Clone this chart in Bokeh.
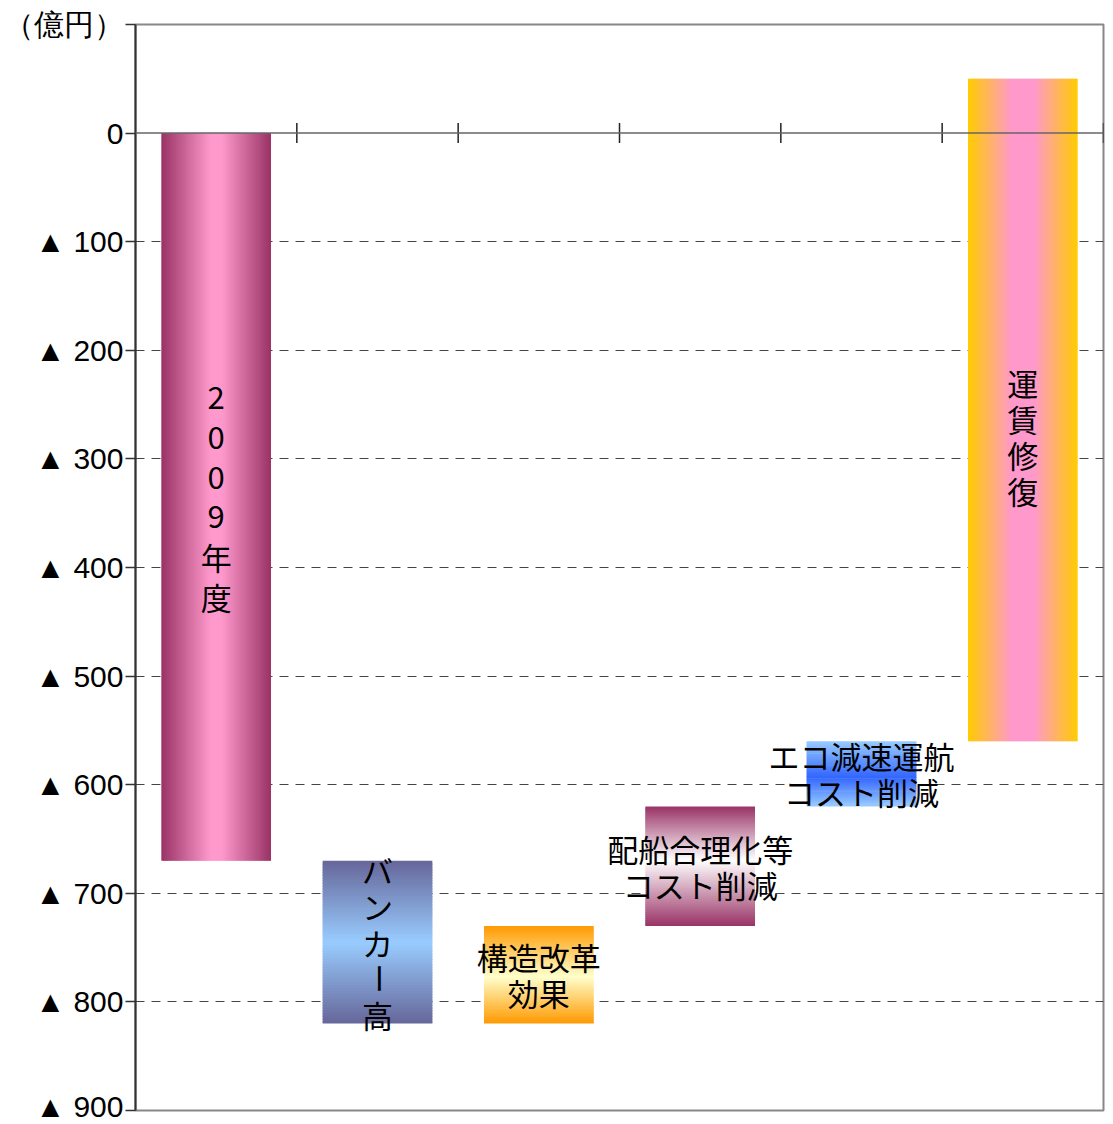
from bokeh.plotting import figure
from bokeh.models import FixedTicker, Span, ColumnDataSource, Range1d
from bokeh.core.properties import value
from bokeh.embed import file_html
from bokeh.resources import INLINE
import math

# ---------------- data ----------------
categories = ["2009年度", "バンカー高", "構造改革\n効果", "配船合理化等\nコスト削減",
              "エコ減速運航\nコスト削減", "運賃修復"]
deltas = [-670, -150, 90, 110, 60, 610]          # 億円, waterfall steps
y_ticks = [-900, -800, -700, -600, -500, -400, -300, -200, -100, 0, 100]
y_tick_labels = ["▲ 900", "▲ 800", "▲ 700", "▲ 600", "▲ 500", "▲ 400",
                 "▲ 300", "▲ 200", "▲ 100", "0", "（億円）"]

# ---------------- style ----------------
grad_dir = ["h", "v", "v", "v", "v", "h"]
grad_stops = [
    [(0, "#993366"), (0.45, "#FF99CC"), (0.55, "#FF99CC"), (1, "#993366")],
    [(0, "#666699"), (0.5, "#99CCFF"), (1, "#666699")],
    [(0, "#FF9900"), (0.52, "#FFFFCC"), (1, "#FF9900")],
    [(0, "#993366"), (0.45, "#FFFFFF"), (1, "#993366")],
    [(0, "#99CCFF"), (0.55, "#3366FF"), (1, "#99CCFF")],
    [(0, "#FFCC00"), (0.4, "#FF99CC"), (0.6, "#FF99CC"), (1, "#FFCC00")],
]
label_vertical = [True, True, False, False, False, True]
label_spacing = [39.8, 36.3, 36, 36, 36, 36]
label_shift = [0, 0, 0, 0, 0, 26]
BAR_W = 0.68
N = 60


def hex2rgb(h):
    h = h.lstrip("#")
    return tuple(int(h[i:i + 2], 16) for i in (0, 2, 4))


def interp(stops, t):
    for (p0, c0), (p1, c1) in zip(stops[:-1], stops[1:]):
        if p0 <= t <= p1:
            f = 0 if p1 == p0 else (t - p0) / (p1 - p0)
            a, b = hex2rgb(c0), hex2rgb(c1)
            r = [round(a[i] + (b[i] - a[i]) * f) for i in range(3)]
            return "#%02x%02x%02x" % tuple(r)
    return stops[-1][1]


# waterfall extents
tops, bottoms = [], []
level = 0
for d in deltas:
    nxt = level + d
    tops.append(max(level, nxt))
    bottoms.append(min(level, nxt))
    level = nxt

FW, FH = 968, 1086
p = figure(frame_width=FW, frame_height=FH,
           x_range=Range1d(0, len(categories)), y_range=Range1d(-900, 100),
           output_backend="svg", toolbar_location=None,
           min_border_left=135, min_border_right=2, min_border_top=24, min_border_bottom=12)
p.background_fill_color = "white"
p.border_fill_color = "white"
p.outline_line_color = "#888888"
p.outline_line_width = 2

# gradient bars as strips
L, R, T, B, C = [], [], [], [], []
for i, (tp, bt) in enumerate(zip(tops, bottoms)):
    cx = i + 0.5
    x0, x1 = cx - BAR_W / 2, cx + BAR_W / 2
    for k in range(N):
        t = (k + 0.5) / N
        col = interp(grad_stops[i], t)
        f0, f1 = k / N, min(1.0, (k + 1.6) / N)
        if grad_dir[i] == "h":
            L.append(x0 + (x1 - x0) * f0); R.append(x0 + (x1 - x0) * f1)
            T.append(tp); B.append(bt)
        else:
            T.append(tp - (tp - bt) * f0); B.append(tp - (tp - bt) * f1)
            L.append(x0); R.append(x1)
        C.append(col)
p.quad(left="left", right="right", top="top", bottom="bottom", color="color",
       line_color=None, source=ColumnDataSource(dict(left=L, right=R, top=T, bottom=B, color=C)))

# zero line and category boundary ticks
p.add_layout(Span(location=0, dimension="width", line_color="#666666", line_width=1.5))
p.scatter(x=list(range(1, len(categories) + 1)), y=[0] * len(categories), marker="dash",
          angle=math.pi / 2, size=20, line_color="#222222", line_width=1.5)

# labels
tx, ty, tt, toff, tang = [], [], [], [], []
for i, name in enumerate(categories):
    mid = (tops[i] + bottoms[i]) / 2
    parts = list(name.replace("\n", "")) if label_vertical[i] else name.split("\n")
    n = len(parts)
    for k, s in enumerate(parts):
        tx.append(i + 0.5); ty.append(mid); tt.append(s)
        toff.append((k - (n - 1) / 2) * label_spacing[i] + label_shift[i])
        tang.append(math.pi / 2 if (label_vertical[i] and s == "ー") else 0)
p.text(x="x", y="y", text="text", y_offset="yo", angle="ang",
       source=ColumnDataSource(dict(x=tx, y=ty, text=tt, yo=toff, ang=tang)),
       text_font=value("Noto Sans CJK JP"), text_font_size=value("31px"),
       text_color="black", text_align="center", text_baseline="middle")

# axes
p.xaxis.visible = False
p.xgrid.visible = False
ya = p.yaxis[0]
ya.ticker = FixedTicker(ticks=y_ticks)
ya.major_label_overrides = {t: lab for t, lab in zip(y_ticks, y_tick_labels)}
ya.minor_tick_line_color = None
ya.major_tick_out = 10
ya.major_tick_in = 0
ya.major_tick_line_color = "#333333"
ya.major_tick_line_width = 1.5
ya.axis_line_color = "#333333"
ya.axis_line_width = 2
ya.major_label_standoff = 2
ya.major_label_text_font = "Liberation Sans"
ya.major_label_text_font_size = "30px"
ya.major_label_text_color = "black"

p.ygrid.ticker = FixedTicker(ticks=[t for t in y_ticks if -900 < t < 0])
p.ygrid.grid_line_color = "#444444"
p.ygrid.grid_line_dash = "9 7"
p.ygrid.grid_line_width = 1

open("out.html", "w").write(file_html(p, INLINE))
